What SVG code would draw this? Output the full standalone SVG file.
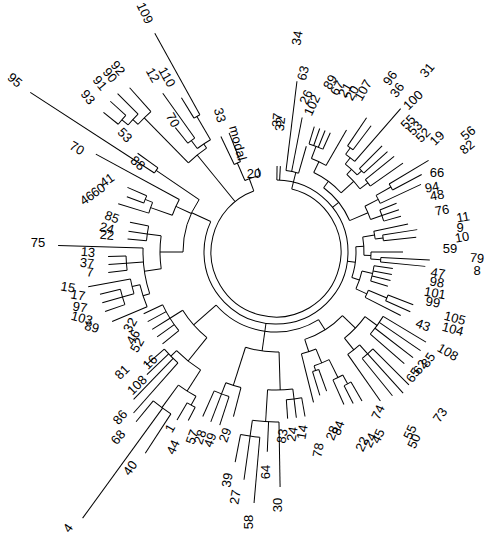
<svg xmlns="http://www.w3.org/2000/svg" width="485" height="535" viewBox="0 0 485 535">
<style>
#connectors line,#connectors circle{stroke:#000;stroke-width:1;fill:none}
text{font-family:"Liberation Sans",Arial,sans-serif;font-size:13px;fill:#000;text-anchor:middle;dominant-baseline:central}
</style>
<rect width="485" height="535" fill="#fff"/>
<g id="connectors" transform="translate(276 252)">
<circle r="65" pathLength="360" stroke-dasharray="326 400" transform="rotate(-76)"/>
<circle r="72" pathLength="360" stroke-dasharray="294.3 400" transform="rotate(-89.3)"/>
<circle r="80" pathLength="360" stroke-dasharray="80.7 400" transform="rotate(57.8)"/>
<circle r="93" pathLength="360" stroke-dasharray="34.25 400" transform="rotate(180)"/>
<circle r="78" pathLength="360" stroke-dasharray="11.5 400" transform="rotate(246.5)"/>
<circle r="97" pathLength="360" stroke-dasharray="4 400" transform="rotate(244.5)"/>
<circle r="82" pathLength="360" stroke-dasharray="9 400" transform="rotate(-83)"/>
<circle r="113" pathLength="360" stroke-dasharray="7.5 400" transform="rotate(-73)"/>
<circle r="100" pathLength="360" stroke-dasharray="9.25 400" transform="rotate(-69.25)"/>
<circle r="128" pathLength="360" stroke-dasharray="3 400" transform="rotate(-56)"/>
<circle r="120" pathLength="360" stroke-dasharray="5.5 400" transform="rotate(-54.5)"/>
<circle r="118" pathLength="360" stroke-dasharray="3 400" transform="rotate(-45)"/>
<circle r="112" pathLength="360" stroke-dasharray="8.25 400" transform="rotate(-51.75)"/>
<circle r="115" pathLength="360" stroke-dasharray="4 400" transform="rotate(-39)"/>
<circle r="105" pathLength="360" stroke-dasharray="10.6 400" transform="rotate(-47.6)"/>
<circle r="88" pathLength="360" stroke-dasharray="22.3 400" transform="rotate(-64.6)"/>
<circle r="80" pathLength="360" stroke-dasharray="30.35 400" transform="rotate(-53.45)"/>
<circle r="132" pathLength="360" stroke-dasharray="3 400" transform="rotate(-31)"/>
<circle r="115" pathLength="360" stroke-dasharray="4.5 400" transform="rotate(-29.5)"/>
<circle r="112" pathLength="360" stroke-dasharray="6 400" transform="rotate(-22)"/>
<circle r="100" pathLength="360" stroke-dasharray="8.25 400" transform="rotate(-27.25)"/>
<circle r="108" pathLength="360" stroke-dasharray="3 400" transform="rotate(-9)"/>
<circle r="100" pathLength="360" stroke-dasharray="4.5 400" transform="rotate(-12)"/>
<circle r="105" pathLength="360" stroke-dasharray="2.5 400" transform="rotate(3)"/>
<circle r="95" pathLength="360" stroke-dasharray="4.25 400" transform="rotate(0)"/>
<circle r="88" pathLength="360" stroke-dasharray="11.85 400" transform="rotate(-9.75)"/>
<circle r="99" pathLength="360" stroke-dasharray="9 400" transform="rotate(8)"/>
<circle r="120" pathLength="360" stroke-dasharray="3 400" transform="rotate(21)"/>
<circle r="100" pathLength="360" stroke-dasharray="4.5 400" transform="rotate(22.5)"/>
<circle r="88" pathLength="360" stroke-dasharray="12.25 400" transform="rotate(12.5)"/>
<circle r="80" pathLength="360" stroke-dasharray="22.4 400" transform="rotate(-3.8)"/>
<circle r="125" pathLength="360" stroke-dasharray="10 400" transform="rotate(31)"/>
<circle r="137" pathLength="360" stroke-dasharray="6 400" transform="rotate(45)"/>
<circle r="125" pathLength="360" stroke-dasharray="7 400" transform="rotate(48)"/>
<circle r="110" pathLength="360" stroke-dasharray="15.5 400" transform="rotate(36)"/>
<circle r="150" pathLength="360" stroke-dasharray="3 400" transform="rotate(60)"/>
<circle r="140" pathLength="360" stroke-dasharray="4.5 400" transform="rotate(61.5)"/>
<circle r="125" pathLength="360" stroke-dasharray="3 400" transform="rotate(70)"/>
<circle r="120" pathLength="360" stroke-dasharray="7.75 400" transform="rotate(63.75)"/>
<circle r="105" pathLength="360" stroke-dasharray="8.4 400" transform="rotate(67.6)"/>
<circle r="92" pathLength="360" stroke-dasharray="28.05 400" transform="rotate(43.75)"/>
<circle r="148" pathLength="360" stroke-dasharray="6 400" transform="rotate(80)"/>
<circle r="186" pathLength="360" stroke-dasharray="6 400" transform="rotate(95)"/>
<circle r="170" pathLength="360" stroke-dasharray="9 400" transform="rotate(89)"/>
<circle r="138" pathLength="360" stroke-dasharray="10.5 400" transform="rotate(83)"/>
<circle r="152" pathLength="360" stroke-dasharray="6 400" transform="rotate(108)"/>
<circle r="140" pathLength="360" stroke-dasharray="6.5 400" transform="rotate(104.5)"/>
<circle r="100" pathLength="360" stroke-dasharray="19.5 400" transform="rotate(88.25)"/>
<circle r="175" pathLength="360" stroke-dasharray="3 400" transform="rotate(117.5)"/>
<circle r="193" pathLength="360" stroke-dasharray="6.5 400" transform="rotate(123)"/>
<circle r="165" pathLength="360" stroke-dasharray="7.25 400" transform="rotate(119)"/>
<circle r="148" pathLength="360" stroke-dasharray="7.5 400" transform="rotate(131.5)"/>
<circle r="140" pathLength="360" stroke-dasharray="12.65 400" transform="rotate(122.6)"/>
<circle r="125" pathLength="360" stroke-dasharray="14 400" transform="rotate(141)"/>
<circle r="110" pathLength="360" stroke-dasharray="19.1 400" transform="rotate(128.9)"/>
<circle r="133" pathLength="360" stroke-dasharray="19.95 400" transform="rotate(161.75)"/>
<circle r="150" pathLength="360" stroke-dasharray="5.5 400" transform="rotate(173)"/>
<circle r="140" pathLength="360" stroke-dasharray="9.5 400" transform="rotate(157)"/>
<circle r="148" pathLength="360" stroke-dasharray="5.85 400" transform="rotate(163.65)"/>
<circle r="160" pathLength="360" stroke-dasharray="5.7 400" transform="rotate(160.8)"/>
<circle r="130" pathLength="360" stroke-dasharray="6.5 400" transform="rotate(185)"/>
<circle r="116" pathLength="360" stroke-dasharray="16.3 400" transform="rotate(171.7)"/>
<circle r="110" pathLength="360" stroke-dasharray="9 400" transform="rotate(199.5)"/>
<circle r="133" pathLength="360" stroke-dasharray="4.9 400" transform="rotate(197)"/>
<circle r="141" pathLength="360" stroke-dasharray="3.2 400" transform="rotate(200.3)"/>
<circle r="145" pathLength="360" stroke-dasharray="2.5 400" transform="rotate(213)"/>
<circle r="188" pathLength="360" stroke-dasharray="5.5 400" transform="rotate(222.8)"/>
<circle r="195" pathLength="360" stroke-dasharray="4.35 400" transform="rotate(220.65)"/>
<circle r="203" pathLength="360" stroke-dasharray="3.3 400" transform="rotate(219)"/>
<circle r="130" pathLength="360" stroke-dasharray="7 400" transform="rotate(232.75)"/>
<circle r="157" pathLength="360" stroke-dasharray="2.5 400" transform="rotate(238.5)"/>
<circle r="140" pathLength="360" stroke-dasharray="3.5 400" transform="rotate(231)"/>
<circle r="125" pathLength="360" stroke-dasharray="10.75 400" transform="rotate(225.5)"/>
<line x1="65" x2="78" transform="rotate(250)"/>
<line x1="65" x2="82" transform="rotate(-76)"/>
<line x1="65" x2="125" transform="rotate(230.9)"/>
<line x1="72" x2="93" transform="rotate(205)"/>
<line x1="72" x2="80" transform="rotate(98)"/>
<line x1="72" x2="80" transform="rotate(-38.3)"/>
<line x1="72" x2="80" transform="rotate(7.4)"/>
<line x1="78" x2="97" transform="rotate(246.5)"/>
<line x1="97" x2="128" transform="rotate(244.5)"/>
<line x1="97" x2="128" transform="rotate(248.5)"/>
<line x1="78" x2="86" transform="rotate(258)"/>
<line x1="82" x2="172" transform="rotate(-83)"/>
<line x1="82" x2="137" transform="rotate(-79)"/>
<line x1="82" x2="110" transform="rotate(-74)"/>
<line x1="72" x2="86" transform="rotate(-89.3)"/>
<line x1="72" x2="86" transform="rotate(-87.1)"/>
<line x1="113" x2="131" transform="rotate(-73)"/>
<line x1="113" x2="131" transform="rotate(-70.5)"/>
<line x1="113" x2="131" transform="rotate(-68)"/>
<line x1="113" x2="131" transform="rotate(-65.5)"/>
<line x1="100" x2="113" transform="rotate(-69.25)"/>
<line x1="100" x2="141" transform="rotate(-60)"/>
<line x1="88" x2="100" transform="rotate(-64.6)"/>
<line x1="128" x2="162" transform="rotate(-56)"/>
<line x1="128" x2="158" transform="rotate(-53)"/>
<line x1="120" x2="128" transform="rotate(-54.5)"/>
<line x1="120" x2="190" transform="rotate(-49)"/>
<line x1="112" x2="120" transform="rotate(-51.75)"/>
<line x1="118" x2="150" transform="rotate(-45)"/>
<line x1="118" x2="150" transform="rotate(-42)"/>
<line x1="112" x2="118" transform="rotate(-43.5)"/>
<line x1="105" x2="112" transform="rotate(-47.6)"/>
<line x1="115" x2="152" transform="rotate(-39)"/>
<line x1="115" x2="155" transform="rotate(-35)"/>
<line x1="105" x2="115" transform="rotate(-37)"/>
<line x1="88" x2="105" transform="rotate(-42.3)"/>
<line x1="80" x2="88" transform="rotate(-53.45)"/>
<line x1="132" x2="178" transform="rotate(-31)"/>
<line x1="132" x2="165" transform="rotate(-28)"/>
<line x1="115" x2="132" transform="rotate(-29.5)"/>
<line x1="115" x2="160" transform="rotate(-25)"/>
<line x1="100" x2="115" transform="rotate(-27.25)"/>
<line x1="112" x2="130" transform="rotate(-22)"/>
<line x1="112" x2="130" transform="rotate(-19)"/>
<line x1="112" x2="130" transform="rotate(-16)"/>
<line x1="100" x2="112" transform="rotate(-19)"/>
<line x1="80" x2="100" transform="rotate(-23.1)"/>
<line x1="100" x2="135" transform="rotate(-12)"/>
<line x1="108" x2="143" transform="rotate(-9)"/>
<line x1="108" x2="141" transform="rotate(-6)"/>
<line x1="100" x2="108" transform="rotate(-7.5)"/>
<line x1="88" x2="100" transform="rotate(-9.75)"/>
<line x1="95" x2="127" transform="rotate(0)"/>
<line x1="105" x2="154" transform="rotate(3)"/>
<line x1="105" x2="150" transform="rotate(5.5)"/>
<line x1="95" x2="105" transform="rotate(4.25)"/>
<line x1="88" x2="95" transform="rotate(2.1)"/>
<line x1="80" x2="88" transform="rotate(-3.8)"/>
<line x1="99" x2="118" transform="rotate(8)"/>
<line x1="99" x2="118" transform="rotate(11)"/>
<line x1="99" x2="118" transform="rotate(14)"/>
<line x1="99" x2="117" transform="rotate(17)"/>
<line x1="88" x2="99" transform="rotate(12.5)"/>
<line x1="120" x2="147" transform="rotate(21)"/>
<line x1="120" x2="147" transform="rotate(24)"/>
<line x1="100" x2="120" transform="rotate(22.5)"/>
<line x1="100" x2="140" transform="rotate(27)"/>
<line x1="88" x2="100" transform="rotate(24.75)"/>
<line x1="80" x2="88" transform="rotate(18.6)"/>
<line x1="125" x2="175" transform="rotate(31)"/>
<line x1="125" x2="175" transform="rotate(34.3)"/>
<line x1="125" x2="173" transform="rotate(37.6)"/>
<line x1="125" x2="170" transform="rotate(41)"/>
<line x1="110" x2="125" transform="rotate(36)"/>
<line x1="137" x2="188" transform="rotate(45)"/>
<line x1="137" x2="190" transform="rotate(48)"/>
<line x1="137" x2="185" transform="rotate(51)"/>
<line x1="125" x2="137" transform="rotate(48)"/>
<line x1="125" x2="182" transform="rotate(55)"/>
<line x1="110" x2="125" transform="rotate(51.5)"/>
<line x1="92" x2="110" transform="rotate(43.75)"/>
<line x1="150" x2="172" transform="rotate(60)"/>
<line x1="150" x2="170" transform="rotate(63)"/>
<line x1="140" x2="150" transform="rotate(61.5)"/>
<line x1="140" x2="167" transform="rotate(66)"/>
<line x1="120" x2="140" transform="rotate(63.75)"/>
<line x1="125" x2="148" transform="rotate(70)"/>
<line x1="125" x2="150" transform="rotate(73)"/>
<line x1="120" x2="125" transform="rotate(71.5)"/>
<line x1="105" x2="120" transform="rotate(67.6)"/>
<line x1="105" x2="155" transform="rotate(76)"/>
<line x1="92" x2="105" transform="rotate(71.8)"/>
<line x1="80" x2="92" transform="rotate(57.8)"/>
<line x1="148" x2="167" transform="rotate(80)"/>
<line x1="148" x2="167" transform="rotate(83)"/>
<line x1="148" x2="167" transform="rotate(86)"/>
<line x1="138" x2="148" transform="rotate(83)"/>
<line x1="186" x2="252" transform="rotate(95)"/>
<line x1="186" x2="230" transform="rotate(98)"/>
<line x1="186" x2="214" transform="rotate(101)"/>
<line x1="170" x2="186" transform="rotate(98)"/>
<line x1="170" x2="235" transform="rotate(89)"/>
<line x1="170" x2="200" transform="rotate(92.5)"/>
<line x1="138" x2="170" transform="rotate(93.5)"/>
<line x1="100" x2="138" transform="rotate(88.25)"/>
<line x1="152" x2="182" transform="rotate(108)"/>
<line x1="152" x2="182" transform="rotate(111)"/>
<line x1="152" x2="180" transform="rotate(114)"/>
<line x1="140" x2="152" transform="rotate(111)"/>
<line x1="140" x2="170" transform="rotate(104.5)"/>
<line x1="100" x2="140" transform="rotate(107.75)"/>
<line x1="80" x2="100" transform="rotate(98)"/>
<line x1="175" x2="190" transform="rotate(117.5)"/>
<line x1="175" x2="195" transform="rotate(120.5)"/>
<line x1="165" x2="175" transform="rotate(119)"/>
<line x1="193" x2="240" transform="rotate(123)"/>
<line x1="193" x2="329" transform="rotate(126)"/>
<line x1="193" x2="220" transform="rotate(129.5)"/>
<line x1="165" x2="193" transform="rotate(126.25)"/>
<line x1="140" x2="165" transform="rotate(122.6)"/>
<line x1="148" x2="215" transform="rotate(131.5)"/>
<line x1="148" x2="205" transform="rotate(134)"/>
<line x1="148" x2="178" transform="rotate(136.5)"/>
<line x1="148" x2="172" transform="rotate(139)"/>
<line x1="140" x2="148" transform="rotate(135.25)"/>
<line x1="110" x2="140" transform="rotate(128.9)"/>
<line x1="125" x2="146" transform="rotate(141)"/>
<line x1="125" x2="146" transform="rotate(144.5)"/>
<line x1="125" x2="146" transform="rotate(148)"/>
<line x1="125" x2="146" transform="rotate(151.5)"/>
<line x1="125" x2="146" transform="rotate(155)"/>
<line x1="110" x2="125" transform="rotate(148)"/>
<line x1="80" x2="110" transform="rotate(138.5)"/>
<line x1="133" x2="218" transform="rotate(181.7)"/>
<line x1="133" x2="150" transform="rotate(175.7)"/>
<line x1="150" x2="169" transform="rotate(173)"/>
<line x1="150" x2="168" transform="rotate(175.7)"/>
<line x1="150" x2="168" transform="rotate(178.5)"/>
<line x1="133" x2="140" transform="rotate(161.75)"/>
<line x1="140" x2="178" transform="rotate(157)"/>
<line x1="140" x2="148" transform="rotate(166.5)"/>
<line x1="148" x2="191" transform="rotate(169.5)"/>
<line x1="148" x2="160" transform="rotate(163.65)"/>
<line x1="160" x2="181" transform="rotate(160.8)"/>
<line x1="160" x2="181" transform="rotate(163.7)"/>
<line x1="160" x2="181" transform="rotate(166.5)"/>
<line x1="116" x2="133" transform="rotate(171.7)"/>
<line x1="130" x2="149" transform="rotate(185)"/>
<line x1="130" x2="149" transform="rotate(188)"/>
<line x1="130" x2="149" transform="rotate(191.5)"/>
<line x1="116" x2="130" transform="rotate(188)"/>
<line x1="93" x2="116" transform="rotate(180)"/>
<line x1="110" x2="133" transform="rotate(199.5)"/>
<line x1="133" x2="165" transform="rotate(197)"/>
<line x1="133" x2="141" transform="rotate(201.9)"/>
<line x1="141" x2="159" transform="rotate(200.3)"/>
<line x1="141" x2="162" transform="rotate(203.5)"/>
<line x1="110" x2="205" transform="rotate(208.5)"/>
<line x1="93" x2="110" transform="rotate(204.5)"/>
<line x1="145" x2="293" transform="rotate(213)"/>
<line x1="145" x2="170" transform="rotate(215.5)"/>
<line x1="93" x2="145" transform="rotate(214.25)"/>
<line x1="188" x2="220" transform="rotate(228.3)"/>
<line x1="188" x2="195" transform="rotate(222.8)"/>
<line x1="195" x2="224" transform="rotate(225)"/>
<line x1="195" x2="203" transform="rotate(220.65)"/>
<line x1="203" x2="222" transform="rotate(219)"/>
<line x1="203" x2="224" transform="rotate(222.3)"/>
<line x1="125" x2="188" transform="rotate(225.5)"/>
<line x1="130" x2="157" transform="rotate(239.75)"/>
<line x1="157" x2="181" transform="rotate(238.5)"/>
<line x1="157" x2="250" transform="rotate(241)"/>
<line x1="130" x2="140" transform="rotate(232.75)"/>
<line x1="140" x2="160" transform="rotate(231)"/>
<line x1="140" x2="195" transform="rotate(234.5)"/>
<line x1="125" x2="130" transform="rotate(236.25)"/>
</g>
<g id="labels">
<g id="n001"><text x="145" y="13" transform="rotate(65 145 13)">109</text></g>
<g id="n002"><text x="167" y="77" transform="rotate(60 167 77)">110</text></g>
<g id="n003"><text x="153" y="75" transform="rotate(60 153 75)">12</text></g>
<g id="n004"><text x="118" y="68" transform="rotate(50 118 68)">92</text></g>
<g id="n005"><text x="110" y="75" transform="rotate(50 110 75)">90</text></g>
<g id="n006"><text x="100" y="83" transform="rotate(50 100 83)">91</text></g>
<g id="n007"><text x="88" y="97" transform="rotate(50 88 97)">93</text></g>
<g id="n008"><text x="15" y="80" transform="rotate(40 15 80)">95</text></g>
<g id="n009"><text x="173" y="120" transform="rotate(60 173 120)">70</text></g>
<g id="n010"><text x="125" y="135" transform="rotate(45 125 135)">53</text></g>
<g id="n011"><text x="220" y="115" transform="rotate(75 220 115)">33</text></g>
<g id="n012"><text x="238" y="143" transform="rotate(75 238 143)">modal</text></g>
<g id="n013"><text x="77" y="148" transform="rotate(30 77 148)">70</text></g>
<g id="n014"><text x="138" y="163" transform="rotate(40 138 163)">88</text></g>
<g id="n015"><text x="254" y="173">20</text></g>
<g id="n016"><text x="297" y="38" transform="rotate(-80 297 38)">34</text></g>
<g id="n017"><text x="303" y="73" transform="rotate(-75 303 73)">63</text></g>
<g id="n018"><text x="277" y="120" transform="rotate(-85 277 120)">37</text></g>
<g id="n019"><text x="280" y="124" transform="rotate(-85 280 124)">32</text></g>
<g id="n020"><text x="306" y="97" transform="rotate(-65 306 97)">26</text></g>
<g id="n021"><text x="312" y="105" transform="rotate(-65 312 105)">102</text></g>
<g id="n022"><text x="330" y="82" transform="rotate(-60 330 82)">89</text></g>
<g id="n023"><text x="337" y="88" transform="rotate(-60 337 88)">67</text></g>
<g id="n024"><text x="345" y="90" transform="rotate(-60 345 90)">21</text></g>
<g id="n025"><text x="352" y="93" transform="rotate(-60 352 93)">20</text></g>
<g id="n026"><text x="363" y="90" transform="rotate(-60 363 90)">107</text></g>
<g id="n027"><text x="390" y="78" transform="rotate(-55 390 78)">96</text></g>
<g id="n028"><text x="397" y="90" transform="rotate(-55 397 90)">36</text></g>
<g id="n029"><text x="427" y="70" transform="rotate(-50 427 70)">31</text></g>
<g id="n030"><text x="413" y="100" transform="rotate(-45 413 100)">100</text></g>
<g id="n031"><text x="408" y="122" transform="rotate(-45 408 122)">55</text></g>
<g id="n032"><text x="415" y="128" transform="rotate(-45 415 128)">53</text></g>
<g id="n033"><text x="423" y="135" transform="rotate(-45 423 135)">52</text></g>
<g id="n034"><text x="437" y="138" transform="rotate(-45 437 138)">19</text></g>
<g id="n035"><text x="468" y="133" transform="rotate(-40 468 133)">56</text></g>
<g id="n036"><text x="467" y="147" transform="rotate(-40 467 147)">82</text></g>
<g id="n037"><text x="437" y="172">66</text></g>
<g id="n038"><text x="432" y="187" transform="rotate(-10 432 187)">94</text></g>
<g id="n039"><text x="437" y="195" transform="rotate(-10 437 195)">48</text></g>
<g id="n040"><text x="442" y="210" transform="rotate(-10 442 210)">76</text></g>
<g id="n041"><text x="463" y="217" transform="rotate(-10 463 217)">11</text></g>
<g id="n042"><text x="460" y="227">9</text></g>
<g id="n043"><text x="462" y="237" transform="rotate(-10 462 237)">10</text></g>
<g id="n044"><text x="450" y="248">59</text></g>
<g id="n045"><text x="477" y="258" transform="rotate(5 477 258)">79</text></g>
<g id="n046"><text x="477" y="270">8</text></g>
<g id="n047"><text x="438" y="273" transform="rotate(10 438 273)">47</text></g>
<g id="n048"><text x="437" y="282" transform="rotate(10 437 282)">98</text></g>
<g id="n049"><text x="435" y="293" transform="rotate(10 435 293)">101</text></g>
<g id="n050"><text x="433" y="302" transform="rotate(10 433 302)">99</text></g>
<g id="n051"><text x="455" y="318" transform="rotate(15 455 318)">105</text></g>
<g id="n052"><text x="453" y="329" transform="rotate(15 453 329)">104</text></g>
<g id="n053"><text x="423" y="325" transform="rotate(20 423 325)">43</text></g>
<g id="n054"><text x="448" y="352" transform="rotate(30 448 352)">108</text></g>
<g id="n055"><text x="428" y="360" transform="rotate(-55 428 360)">85</text></g>
<g id="n056"><text x="420" y="367" transform="rotate(-55 420 367)">62</text></g>
<g id="n057"><text x="413" y="375" transform="rotate(-55 413 375)">65</text></g>
<g id="n058"><text x="440" y="415" transform="rotate(-55 440 415)">73</text></g>
<g id="n059"><text x="410" y="432" transform="rotate(-65 410 432)">55</text></g>
<g id="n060"><text x="414" y="441" transform="rotate(-65 414 441)">50</text></g>
<g id="n061"><text x="378" y="412" transform="rotate(-65 378 412)">74</text></g>
<g id="n062"><text x="378" y="436" transform="rotate(-65 378 436)">45</text></g>
<g id="n063"><text x="370" y="440" transform="rotate(-65 370 440)">24</text></g>
<g id="n064"><text x="362" y="444" transform="rotate(-65 362 444)">22</text></g>
<g id="n065"><text x="338" y="428" transform="rotate(-70 338 428)">84</text></g>
<g id="n066"><text x="332" y="433" transform="rotate(-70 332 433)">28</text></g>
<g id="n067"><text x="318" y="450" transform="rotate(-80 318 450)">78</text></g>
<g id="n068"><text x="302" y="432" transform="rotate(-80 302 432)">14</text></g>
<g id="n069"><text x="292" y="434" transform="rotate(-80 292 434)">24</text></g>
<g id="n070"><text x="282" y="436" transform="rotate(-80 282 436)">83</text></g>
<g id="n071"><text x="265" y="472" transform="rotate(-90 265 472)">64</text></g>
<g id="n072"><text x="277" y="505" transform="rotate(-90 277 505)">30</text></g>
<g id="n073"><text x="248" y="522" transform="rotate(-90 248 522)">58</text></g>
<g id="n074"><text x="235" y="497" transform="rotate(-80 235 497)">27</text></g>
<g id="n075"><text x="227" y="480" transform="rotate(-80 227 480)">39</text></g>
<g id="n076"><text x="225" y="435" transform="rotate(-70 225 435)">29</text></g>
<g id="n077"><text x="210" y="440" transform="rotate(-70 210 440)">49</text></g>
<g id="n078"><text x="200" y="437" transform="rotate(-70 200 437)">28</text></g>
<g id="n079"><text x="192" y="437" transform="rotate(-70 192 437)">57</text></g>
<g id="n080"><text x="170" y="428" transform="rotate(-60 170 428)">1</text></g>
<g id="n081"><text x="173" y="447" transform="rotate(-65 173 447)">44</text></g>
<g id="n082"><text x="130" y="468" transform="rotate(-55 130 468)">40</text></g>
<g id="n083"><text x="68" y="528" transform="rotate(-55 68 528)">4</text></g>
<g id="n084"><text x="120" y="417" transform="rotate(-50 120 417)">86</text></g>
<g id="n085"><text x="118" y="437" transform="rotate(-50 118 437)">68</text></g>
<g id="n086"><text x="137" y="385" transform="rotate(-45 137 385)">108</text></g>
<g id="n087"><text x="122" y="372" transform="rotate(-45 122 372)">81</text></g>
<g id="n088"><text x="150" y="362" transform="rotate(-45 150 362)">16</text></g>
<g id="n089"><text x="130" y="325" transform="rotate(-60 130 325)">32</text></g>
<g id="n090"><text x="133" y="337" transform="rotate(-60 133 337)">46</text></g>
<g id="n091"><text x="137" y="345" transform="rotate(-60 137 345)">52</text></g>
<g id="n092"><text x="92" y="327" transform="rotate(15 92 327)">89</text></g>
<g id="n093"><text x="82" y="318" transform="rotate(15 82 318)">103</text></g>
<g id="n094"><text x="80" y="307" transform="rotate(10 80 307)">97</text></g>
<g id="n095"><text x="78" y="295" transform="rotate(10 78 295)">17</text></g>
<g id="n096"><text x="68" y="287" transform="rotate(10 68 287)">15</text></g>
<g id="n097"><text x="90" y="272" transform="rotate(5 90 272)">7</text></g>
<g id="n098"><text x="87" y="263" transform="rotate(5 87 263)">37</text></g>
<g id="n099"><text x="88" y="252" transform="rotate(5 88 252)">13</text></g>
<g id="n100"><text x="38" y="242">75</text></g>
<g id="n101"><text x="107" y="235" transform="rotate(5 107 235)">22</text></g>
<g id="n102"><text x="107" y="228" transform="rotate(15 107 228)">24</text></g>
<g id="n103"><text x="112" y="217" transform="rotate(20 112 217)">85</text></g>
<g id="n104"><text x="87" y="198" transform="rotate(-35 87 198)">46</text></g>
<g id="n105"><text x="98" y="190" transform="rotate(-35 98 190)">60</text></g>
<g id="n106"><text x="107" y="180" transform="rotate(-35 107 180)">41</text></g>
</g>
</svg>
